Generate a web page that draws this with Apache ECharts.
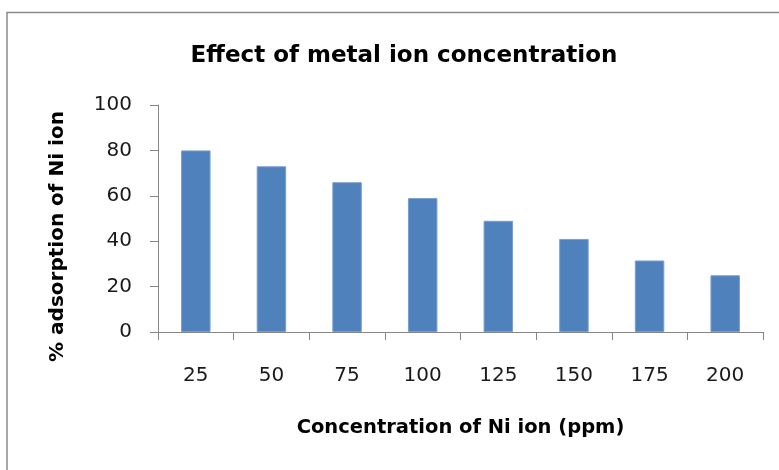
<!DOCTYPE html>
<html>
<head>
<meta charset="utf-8">
<script src="https://cdn.jsdelivr.net/npm/echarts@6/dist/echarts.min.js"></script>
<style>html,body{margin:0;padding:0;background:#fff}#c{width:779px;height:470px}</style>
</head>
<body>
<div id="c"></div>
<script>
const categories = ['25', '50', '75', '100', '125', '150', '175', '200'];
const adsorption = [80, 73, 66, 59, 49, 41, 31.5, 25];
const yTicks = { min: 0, max: 100, interval: 20 };

const chart = echarts.init(document.getElementById('c'));
chart.setOption({
  animation: false,
  backgroundColor: '#fff',
  title: {
    text: 'Effect of metal ion concentration',
    left: 399, top: 40, textAlign: 'center',
    textStyle: { fontFamily: 'DejaVu Sans', fontWeight: 'bold', fontSize: 23, color: '#000' }
  },
  graphic: [{
    type: 'rect', shape: { x: 7, y: 12.5, width: 800, height: 500 },
    style: { fill: 'none', stroke: '#8a8a8a', lineWidth: 1.5 }, silent: true
  }],
  grid: { left: 158, right: 16, top: 105, bottom: 138 },
  xAxis: {
    type: 'category', data: categories,
    name: 'Concentration of Ni ion (ppm)', nameLocation: 'middle', nameGap: 86,
    nameTextStyle: { fontFamily: 'DejaVu Sans', fontWeight: 'bold', fontSize: 19.5, color: '#000' },
    axisLine: { lineStyle: { color: '#868686', width: 1 } },
    axisTick: { show: true, length: 8, alignWithLabel: false, lineStyle: { color: '#868686' } },
    axisLabel: { margin: 34, fontFamily: 'DejaVu Sans', fontSize: 20, color: '#1a1a1a' },
    splitLine: { show: false }
  },
  yAxis: {
    type: 'value', min: yTicks.min, max: yTicks.max, interval: yTicks.interval,
    name: '% adsorption of Ni ion', nameLocation: 'middle', nameGap: 90,
    nameTextStyle: { fontFamily: 'DejaVu Sans', fontWeight: 'bold', fontSize: 20, color: '#000', padding: [0, 36, 0, 0] },
    axisLine: { show: true, lineStyle: { color: '#868686', width: 1 } },
    axisTick: { show: true, length: 8, lineStyle: { color: '#868686' } },
    axisLabel: { margin: 26, fontFamily: 'DejaVu Sans', fontSize: 20, color: '#1a1a1a' },
    splitLine: { show: false }
  },
  series: [{
    type: 'bar', data: adsorption, barWidth: '39%',
    itemStyle: { color: '#4f81bd', borderColor: '#7a9fcf', borderWidth: 1 }
  }]
});
</script>
</body>
</html>
